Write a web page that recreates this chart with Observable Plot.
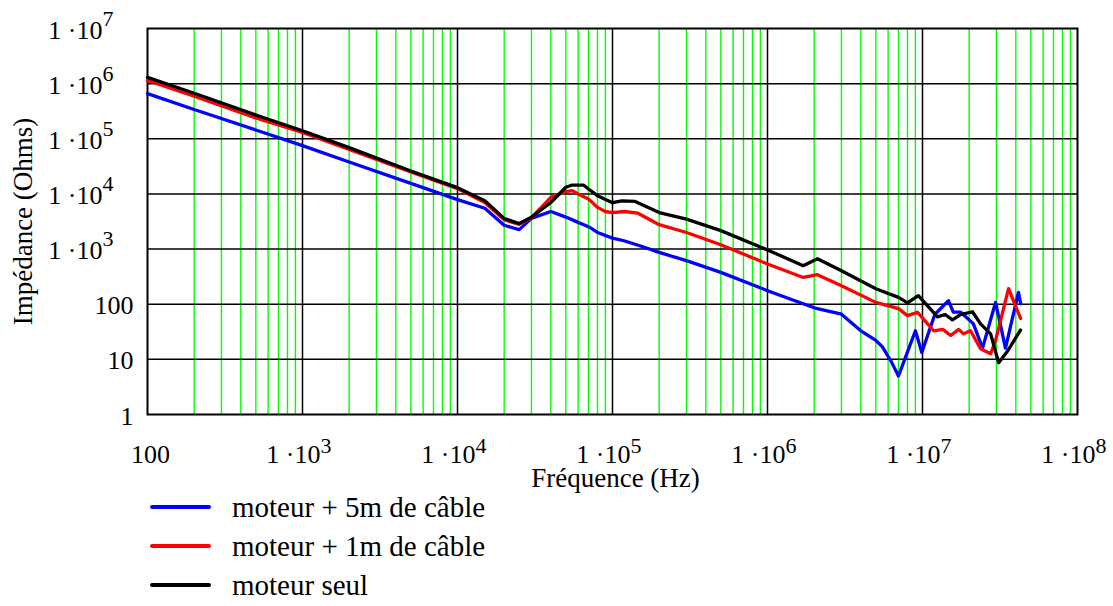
<!DOCTYPE html>
<html>
<head>
<meta charset="utf-8">
<script src="https://cdn.jsdelivr.net/npm/d3@7"></script>
<script src="https://cdn.jsdelivr.net/npm/@observablehq/plot@0.6"></script>
<style>
  body { margin: 0; background: #fff; font-family: "Liberation Serif", "Times New Roman", serif; }
  #chart svg, #legend { display: block; }
</style>
</head>
<body>
<div id="chart"></div>
<svg id="legend" width="1113" height="116"></svg>
<script>
// ---- Data ----
const seriesNames = ["moteur + 5m de câble", "moteur + 1m de câble", "moteur seul"];
const seriesColors = ["#0000ff", "#ff0000", "#000000"];

const freq5m = [100, 200, 500, 1e3, 2e3, 5e3, 1e4, 1.5e4, 2e4, 2.5e4, 3e4, 4e4, 5e4, 6e4, 7e4, 8e4, 1e5, 1.2e5, 1.5e5, 2e5, 3e5, 5e5, 1e6, 2e6, 3e6, 4e6, 5e6, 5.5e6, 6.3e6, 7e6, 9e6, 9.9e6, 1.2e7, 1.47e7, 1.58e7, 1.76e7, 2.13e7, 2.44e7, 2.96e7, 3.43e7, 4.16e7, 4.3e7];
const z5m    = [6.6e5, 3.4e5, 1.44e5, 7.5e4, 3.8e4, 1.55e4, 7.9e3, 5.5e3, 2.7e3, 2.25e3, 3.6e3, 4.8e3, 3.8e3, 3.05e3, 2.55e3, 2.0e3, 1.58e3, 1.4e3, 1.15e3, 870, 616, 378, 176, 86, 66, 33, 22, 17, 9, 5.0, 33, 13.3, 65, 116, 72, 72, 44, 16, 108, 16, 164, 102];

const freq1m = [100, 200, 500, 1e3, 2e3, 5e3, 1e4, 1.5e4, 2e4, 2.5e4, 3e4, 4e4, 5e4, 5.5e4, 6e4, 7e4, 8e4, 9e4, 1e5, 1.2e5, 1.45e5, 2e5, 3e5, 5e5, 1e6, 1.7e6, 2.1e6, 3e6, 5e6, 7e6, 8e6, 9.3e6, 1.18e7, 1.35e7, 1.52e7, 1.71e7, 1.84e7, 2.04e7, 2.37e7, 2.75e7, 2.96e7, 3.59e7, 4.3e7];
const z1m    = [1.14e6, 5.9e5, 2.4e5, 1.3e5, 6.4e4, 2.5e4, 1.25e4, 7.0e3, 3.4e3, 2.8e3, 3.7e3, 8.7e3, 1.1e4, 1.15e4, 1.0e4, 8.1e3, 5.7e3, 4.8e3, 4.6e3, 4.8e3, 4.5e3, 2.77e3, 2.0e3, 1.2e3, 537, 306, 343, 217, 108, 83, 62, 71, 33, 35, 27, 35, 29, 33, 15.6, 12.6, 22, 191, 55];

const freqSeul = [100, 200, 500, 1e3, 2e3, 5e3, 1e4, 1.5e4, 2e4, 2.5e4, 3e4, 4e4, 5e4, 5.5e4, 6.5e4, 7e4, 8e4, 1e5, 1.15e5, 1.4e5, 2e5, 3e5, 5e5, 1e6, 1.7e6, 2.1e6, 3e6, 5e6, 7e6, 8e6, 9.4e6, 1.25e7, 1.4e7, 1.56e7, 1.76e7, 2.1e7, 2.37e7, 2.75e7, 3.1e7, 3.53e7, 4.29e7];
const zSeul    = [1.3e6, 6.7e5, 2.7e5, 1.4e5, 6.9e4, 2.6e4, 1.3e4, 7.5e3, 3.6e3, 2.9e3, 3.8e3, 7.0e3, 1.32e4, 1.45e4, 1.45e4, 1.23e4, 9.3e3, 6.95e3, 7.5e3, 7.3e3, 4.6e3, 3.5e3, 2.16e3, 965, 500, 670, 405, 191, 133, 106, 143, 59, 65, 52, 65, 73, 44, 29, 8.7, 14, 34];

// ---- Axes / grid ----
const xTickValues = [100, 1e3, 1e4, 1e5, 1e6, 1e7, 1e8];
const xTickMain   = ["100", "1 ·10", "1 ·10", "1 ·10", "1 ·10", "1 ·10", "1 ·10"];
const xTickExp    = ["", "3", "4", "5", "6", "7", "8"];
const yTickValues = [1, 10, 100, 1e3, 1e4, 1e5, 1e6, 1e7];
const yTickMain   = ["1", "10", "100", "1 ·10", "1 ·10", "1 ·10", "1 ·10", "1 ·10"];
const yTickExp    = ["", "", "", "3", "4", "5", "6", "7"];
const xMajorGrid  = [1e3, 1e4, 1e5, 1e6, 1e7];
const yMajorGrid  = [10, 100, 1e3, 1e4, 1e5, 1e6];
const decades     = [100, 1e3, 1e4, 1e5, 1e6, 1e7];
const minorMults  = [2, 3, 4, 5, 6, 7, 8, 9];
const xMinorGrid  = decades.flatMap(d => minorMults.map(m => d * m));

const xLabel = "Fréquence (Hz)";
const yLabel = "Impédance (Ohms)";

// ---- Build tables ----
const toRows = (f, z, s) => f.map((v, i) => ({f: v, z: z[i], s}));
const rows5m = toRows(freq5m, z5m, seriesNames[0]);
const rows1m = toRows(freq1m, z1m, seriesNames[1]);
const rowsSeul = toRows(freqSeul, zSeul, seriesNames[2]);

const xt = xTickValues.map((v, i) => ({v, main: xTickMain[i], exp: xTickExp[i]}));
const yt = yTickValues.map((v, i) => ({v, main: yTickMain[i], exp: yTickExp[i]}));

const font = "'Liberation Serif', 'Times New Roman', serif";

const chart = Plot.plot({
  width: 1113,
  height: 490,
  marginLeft: 147,
  marginRight: 36,
  marginTop: 28,
  marginBottom: 76,
  style: {fontFamily: font, background: "white", overflow: "visible"},
  x: {type: "log", domain: [100, 1e8], axis: null},
  y: {type: "log", domain: [1, 1e7], axis: null},
  marks: [
    Plot.ruleX(xMinorGrid, {stroke: "#00ff00", strokeWidth: 1.4}),
    Plot.ruleX(xMajorGrid, {stroke: "#000", strokeWidth: 1.5}),
    Plot.ruleY(yMajorGrid, {stroke: "#000", strokeWidth: 1.5}),
    Plot.frame({stroke: "#000", strokeWidth: 2}),
    Plot.line(rows5m, {x: "f", y: "z", stroke: seriesColors[0], strokeWidth: 3.3, strokeLinejoin: "round"}),
    Plot.line(rows1m, {x: "f", y: "z", stroke: seriesColors[1], strokeWidth: 3.3, strokeLinejoin: "round"}),
    Plot.line(rowsSeul, {x: "f", y: "z", stroke: seriesColors[2], strokeWidth: 3.3, strokeLinejoin: "round"}),
    // y tick labels
    Plot.text(yt.filter(d => !d.exp), {x: () => 100, y: "v", text: "main", textAnchor: "end", lineAnchor: "bottom", dx: -14, dy: 10, fontSize: 26, fontFamily: font, fill: "#000"}),
    Plot.text(yt.filter(d => d.exp), {x: () => 100, y: "v", text: "main", textAnchor: "end", lineAnchor: "bottom", dx: -45, dy: 10, fontSize: 26, fontFamily: font, fill: "#000"}),
    Plot.text(yt.filter(d => d.exp), {x: () => 100, y: "v", text: "exp", textAnchor: "start", lineAnchor: "bottom", dx: -45, dy: -3, fontSize: 22, fontFamily: font, fill: "#000"}),
    // x tick labels
    Plot.text(xt.filter(d => !d.exp), {x: "v", y: () => 1, text: "main", textAnchor: "middle", lineAnchor: "bottom", dx: 3, dy: 48, fontSize: 26, fontFamily: font, fill: "#000"}),
    Plot.text(xt.filter(d => d.exp), {x: "v", y: () => 1, text: "main", textAnchor: "end", lineAnchor: "bottom", dx: 18, dy: 48, fontSize: 26, fontFamily: font, fill: "#000"}),
    Plot.text(xt.filter(d => d.exp), {x: "v", y: () => 1, text: "exp", textAnchor: "start", lineAnchor: "bottom", dx: 18, dy: 38, fontSize: 22, fontFamily: font, fill: "#000"}),
    // axis titles
    Plot.text([xLabel], {frameAnchor: "bottom", text: d => d, textAnchor: "middle", lineAnchor: "bottom", dx: 3, dy: 72, fontSize: 27, fontFamily: font, fill: "#000"}),
    Plot.text([yLabel], {frameAnchor: "left", text: d => d, textAnchor: "middle", lineAnchor: "bottom", rotate: -90, dx: -116, fontSize: 27, fontFamily: font, fill: "#000"})
  ]
});
document.getElementById("chart").appendChild(chart);

// ---- Legend below ----
const legend = d3.select("#legend");
seriesNames.forEach((name, i) => {
  legend.append("line")
    .attr("x1", 152).attr("x2", 209)
    .attr("y1", 17 + 39 * i).attr("y2", 17 + 39 * i)
    .attr("stroke", seriesColors[i]).attr("stroke-width", 4).attr("stroke-linecap", "round");
  legend.append("text")
    .attr("x", 232).attr("y", 27 + 39 * i)
    .attr("font-family", font).attr("font-size", 29).attr("fill", "#000")
    .text(name);
});
</script>
</body>
</html>
